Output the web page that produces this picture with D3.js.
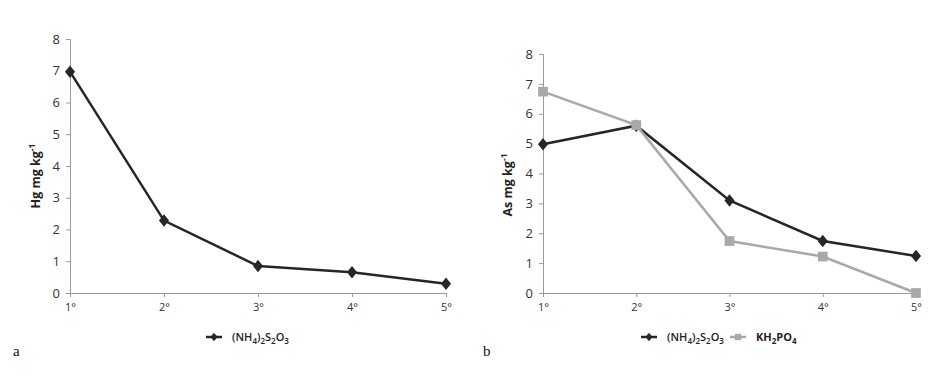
<!DOCTYPE html>
<html lang="en">
<head>
<meta charset="UTF-8">
<title>Hg / As</title>
<script src="https://cdn.jsdelivr.net/npm/d3@7"></script>
<style>
  body { margin: 0; background: #fff; }
  text { font-family: "Open Sans", Lato, sans-serif; }
</style>
</head>
<body>
<div id="chart"></div>
<script>
// datos
const categories = ["1°", "2°", "3°", "4°", "5°"];
const hgThio = [6.97, 2.28, 0.85, 0.65, 0.29];
const asThio = [4.98, 5.6, 3.1, 1.74, 1.24];
const asPhos = [6.74, 5.62, 1.74, 1.22, 0.0];
const yTicks = [0, 1, 2, 3, 4, 5, 6, 7, 8];

const svg = d3.select("#chart").append("svg")
  .attr("width", 944).attr("height", 376);

const black = "#262626", grey = "#a9a9a9", axisCol = "#9a9a9a";

// dibuja un panel
function panel(opt) {
  const x = d3.scalePoint().domain(categories).range([opt.x0, opt.x1]);
  const y = d3.scaleLinear().domain([0, 8]).range([opt.y0, opt.y1]);

  const g = svg.append("g");

  const ya = g.append("g").attr("transform", `translate(${opt.x0},0)`)
    .call(d3.axisLeft(y).tickValues(yTicks).tickSize(4).tickPadding(6));
  const xa = g.append("g").attr("transform", `translate(0,${opt.y0})`)
    .call(d3.axisBottom(x).tickSize(4).tickPadding(6));
  [ya, xa].forEach(a => {
    a.selectAll("path, line").attr("stroke", axisCol);
    a.selectAll("text").attr("fill", "#333");
  });
  ya.selectAll("text").style("font-size", "13px");
  xa.selectAll("text").style("font-size", "11px");

  // etiqueta eje y
  const yl = g.append("text")
    .attr("transform", `translate(${opt.labelX},${opt.labelY}) rotate(-90)`)
    .attr("text-anchor", "middle")
    .style("font-size", "12.5px").style("font-weight", "bold").attr("fill", "#222");
  yl.append("tspan").text(opt.elem + " mg kg");
  yl.append("tspan").attr("dy", -5).style("font-size", "8.5px").text("-1");

  const line = d3.line().x((d, i) => x(categories[i])).y(d => y(d));

  opt.series.forEach(s => {
    g.append("path").datum(s.values)
      .attr("d", line).attr("fill", "none")
      .attr("stroke", s.color).attr("stroke-width", 2.5);
  });
  opt.series.forEach(s => {
    const sym = d3.symbol().type(s.shape === "sq" ? d3.symbolSquare : d3.symbolDiamond)
      .size(s.shape === "sq" ? 95 : 45);
    g.selectAll(null).data(s.values).enter().append("path")
      .attr("d", sym)
      .attr("transform", (d, i) => `translate(${x(categories[i])},${y(d)})${s.shape === "sq" ? "" : " scale(1.4,1)"}`)
      .attr("fill", s.color);
  });

  // leyenda
  let lx = opt.legendX;
  const ly = 337;
  opt.series.forEach(s => {
    g.append("line").attr("x1", lx).attr("x2", lx + 16).attr("y1", ly).attr("y2", ly)
      .attr("stroke", s.color).attr("stroke-width", 2.5);
    const sym = d3.symbol().type(s.shape === "sq" ? d3.symbolSquare : d3.symbolDiamond)
      .size(s.shape === "sq" ? 40 : 22);
    g.append("path").attr("d", sym)
      .attr("transform", `translate(${lx + 8},${ly})${s.shape === "sq" ? "" : " scale(1.4,1)"}`)
      .attr("fill", s.color);
    const t = g.append("text").attr("x", lx + 26).attr("y", ly + 4)
      .style("font-size", "11px").style("font-weight", s.bold ? "bold" : "600").attr("fill", "#222");
    s.label.forEach(p => {
      t.append("tspan").attr("dy", p.sub ? 3 : (p.after ? -3 : 0))
        .style("font-size", p.sub ? "8px" : "11px").text(p.t);
    });
    lx += s.legendW;
  });

  svg.append("text").attr("x", opt.tagX).attr("y", 356)
    .style("font-family", "'Liberation Serif', 'DejaVu Serif', serif")
    .style("font-size", "15px").attr("fill", "#111").text(opt.tag);
}

const thioLabel = [
  { t: "(NH" }, { t: "4", sub: true }, { t: ")", after: true }, { t: "2", sub: true },
  { t: "S", after: true }, { t: "2", sub: true }, { t: "O", after: true }, { t: "3", sub: true }
];
const phosLabel = [
  { t: "KH" }, { t: "2", sub: true }, { t: "PO", after: true }, { t: "4", sub: true }
];

panel({
  x0: 70, x1: 446, y0: 293, y1: 39, labelX: 40, labelY: 176, elem: "Hg",
  legendX: 206, tag: "a", tagX: 13,
  series: [{ values: hgThio, color: black, shape: "di", label: thioLabel, legendW: 90 }]
});

panel({
  x0: 543, x1: 916, y0: 293, y1: 54, labelX: 512, labelY: 185, elem: "As",
  legendX: 641, tag: "b", tagX: 483,
  series: [
    { values: asThio, color: black, shape: "di", label: thioLabel, legendW: 89 },
    { values: asPhos, color: grey, shape: "sq", label: phosLabel, legendW: 80, bold: true }
  ]
});
</script>
</body>
</html>
